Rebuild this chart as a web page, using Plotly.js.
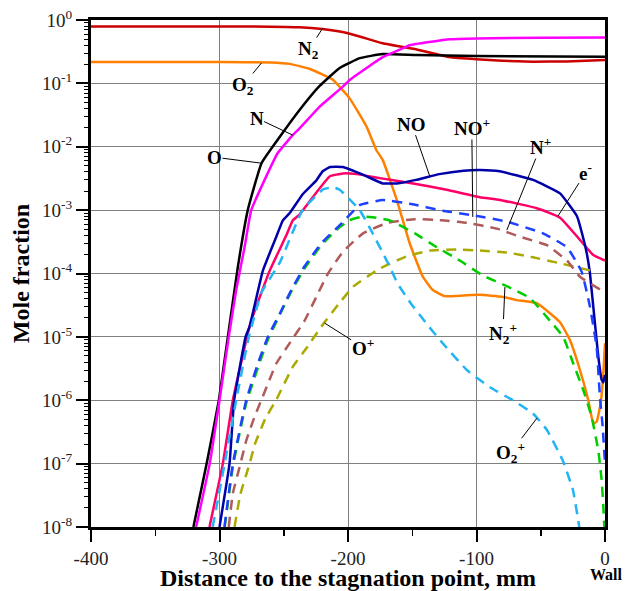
<!DOCTYPE html>
<html><head><meta charset="utf-8">
<script src="https://cdn.plot.ly/plotly-3.0.1.min.js"></script>
<style>html,body{margin:0;padding:0;background:#fff}#chart{width:635px;height:591px}</style>
</head><body><div id="chart"></div>
<script>
// ---- data (x: mm from stagnation point, y: mole fraction) ----
const n2X = [-400,-300,-260,-238,-220,-200,-173,-146,-121,-100,-80,-56,-30,0];
const n2Y = [0.79,0.79,0.785,0.77,0.72,0.62,0.43,0.34,0.26,0.24,0.228,0.22,0.222,0.234];

const o2X = [-400,-300,-260,-245.5,-230,-212,-198.7,-185.5,-178,-173,-162,-152,-141.8,-134,-124.7,-110,-97.4,-80,-68.6,-53,-35,-27.3,-19.5,-13,-9.1,-6.5,-3.4,-1.3,0];
const o2Y = [0.217,0.217,0.214,0.203,0.17,0.115,0.058,0.0207,8.9e-3,6.2e-3,1.44e-3,3e-4,8.9e-5,5.5e-5,4.4e-5,4.5e-5,4.6e-5,4.3e-5,3.8e-5,3.4e-5,1.7e-5,8.9e-6,3e-6,1e-6,4.3e-7,4.6e-7,8.9e-7,2.6e-6,7.9e-6];

const oX = [-320.3,-310,-300.5,-293.5,-285.7,-278,-267.3,-253.2,-237.7,-222.1,-206.5,-190.9,-173,-146.5,-100,0];
const oY = [1e-8,1e-7,1e-6,1e-5,1.28e-4,1e-3,5.5e-3,0.0142,0.038,0.091,0.175,0.25,0.29,0.28,0.27,0.264];

const nX = [-318.2,-307.6,-300,-292.8,-287,-280.5,-275.3,-264.9,-254.8,-243,-237.7,-222,-204,-198.7,-173,-159.7,-152,-120.8,-99.7,-50,0];
const nY = [1e-8,1e-7,1e-6,1e-5,5.5e-5,2.6e-4,1e-3,3e-3,7.9e-3,0.0153,0.0195,0.043,0.089,0.113,0.26,0.34,0.4,0.495,0.51,0.525,0.53];

const noX = [-300,-292.2,-288.6,-279.7,-276.6,-266.3,-255.8,-250.7,-245.5,-235.1,-224.6,-219.7,-214,-204,-188,-173,-162,-147,-129,-110,-97,-82,-56,-35,-21.8,-16.9,-14,-11.7,-7.8,-5.2,-2.6,-1.3,0];
const noY = [1e-8,1e-7,1e-6,1e-5,1.45e-5,1.1e-4,3.8e-4,6.9e-4,8.9e-4,1.8e-3,2.95e-3,4.1e-3,4.8e-3,4.8e-3,3.6e-3,2.64e-3,2.64e-3,3e-3,3.7e-3,4.2e-3,4.3e-3,4.1e-3,3.0e-3,1.84e-3,8e-4,3.6e-4,2e-4,1e-4,1.6e-5,4.9e-6,2.1e-6,1.9e-6,2.5e-6];

const eX = [-307.8,-297.4,-289.6,-278.6,-275.3,-261,-248,-242.9,-237.7,-224.6,-214.3,-204,-193,-175.3,-149.3,-123.3,-97.4,-81.8,-53,-35,-19.5,-9.1,0];
const eY = [1e-8,1e-7,1e-6,1e-5,1.8e-5,1.1e-4,4e-4,6.9e-4,8.5e-4,1.9e-3,3.4e-3,3.8e-3,3.7e-3,3.2e-3,2.64e-3,2.1e-3,1.6e-3,1.45e-3,1.07e-3,7.6e-4,3.4e-4,1.95e-4,1.6e-4];

const o2pX = [-305.3,-296,-287,-277.2,-267.3,-253,-235.4,-219.7,-212,-206.5,-190.9,-180.8,-169.9,-161.3,-151.2,-138.7,-126.2,-107.5,-89.6,-71.7,-56.1,-45.2,-32.7,-24.9,-20];
const o2pY = [1e-8,1e-7,1e-6,1e-5,5e-5,1.5e-4,1e-3,2.1e-3,2.3e-3,2.1e-3,1e-3,4.3e-4,1.6e-4,6.9e-5,3.4e-5,1.6e-5,7.9e-6,3e-6,1.6e-6,1e-6,6.2e-7,3.4e-7,1.1e-7,3.8e-8,1e-8];

const nopX = [-296.1,-289.6,-279.2,-270.1,-262.4,-253.2,-244.1,-233.8,-220.8,-205,-190.9,-173,-152,-126.2,-102.9,-76.4,-48.3,-29.6,-18.2,-11.7,-6.5,-3.9,-1.8,0];
const nopY = [1e-8,1e-7,1e-6,3.8e-6,1e-5,2.3e-5,5.5e-5,1.3e-4,3e-4,6.2e-4,1.2e-3,1.44e-3,1.26e-3,9.8e-4,8.3e-4,6.6e-4,4.3e-4,2.6e-4,1.07e-4,3e-5,6.9e-6,1.1e-6,3.8e-7,1e-7];

const npX = [-292.8,-289.6,-283.7,-279.2,-272.7,-267.5,-255.8,-245.5,-233.8,-224.6,-215.6,-204,-188.3,-169.1,-148,-127,-107.5,-84.2,-66.2,-45.2,-29.6,-19.5,-1.3,0];
const npY = [1e-8,3.4e-8,1e-7,2.3e-7,5.5e-7,1e-6,3.8e-6,7.9e-6,1.8e-5,4.3e-5,1e-4,2.2e-4,4.3e-4,6.3e-4,7.2e-4,6.9e-4,6.3e-4,5.1e-4,3.8e-4,2.8e-4,1.6e-4,8.9e-5,5.2e-5,5e-5];

const n2pX = [-296,-289.6,-279.2,-262.4,-244.1,-233.8,-220.8,-208.8,-199,-188.6,-178,-167.5,-148,-130.9,-113,-95.1,-75.6,-58.4,-42.9,-32.5,-24.7,-16.9,-10.4,-5.2,-2.6,-1.3,-0.5];
const n2pY = [1e-8,9e-8,9e-7,9e-6,5.2e-5,1.2e-4,2.8e-4,4.9e-4,6.9e-4,7.9e-4,7.6e-4,6.9e-4,4.3e-4,2.6e-4,1.6e-4,9.3e-5,6.2e-5,4.1e-5,1.8e-5,1e-5,3.8e-6,1.45e-6,5.5e-7,1.6e-7,5.5e-8,2.1e-8,1e-8];

const opX = [-288.3,-283.9,-276.6,-272.2,-264.4,-256,-242.9,-232.4,-220.8,-207.8,-196,-175.3,-154.5,-136.4,-115.3,-97.4,-76.4,-56.1,-35.1,-11.7,-9.1];
const opY = [1e-8,3.2e-8,1e-7,2.1e-7,5.1e-7,1e-6,3.4e-6,6.6e-6,1.45e-5,3.2e-5,6.2e-5,1.2e-4,1.86e-4,2.3e-4,2.4e-4,2.3e-4,2.15e-4,1.8e-4,1.45e-4,1.12e-4,1.1e-4];

const yExponents = [-8,-7,-6,-5,-4,-3,-2,-1,0];
const xTickVals = [-400,-300,-200,-100,0];
const xTickText = ['-400','-300','-200','-100','0'];

// ---- traces ----
const serif = 'Liberation Serif, Times New Roman, serif';
function line(x, y, color, dash) {
  return {x: x, y: y, type: 'scatter', mode: 'lines', hoverinfo: 'skip',
    line: {color: color, width: 2.5, dash: dash || 'solid', shape: 'spline', smoothing: 0.35}};
}
const traces = [
  line(n2X, n2Y, '#CC0000'),
  line(o2X, o2Y, '#FF8000'),
  line(oX, oY, '#000000'),
  line(nX, nY, '#FF00FF'),
  line(eX, eY, '#FF0066'),
  line(noX, noY, '#0000AA'),
  line(opX, opY, '#AAAA00', '10px,7px'),
  line(npX, npY, '#B05A5A', '10px,7px'),
  line(n2pX, n2pY, '#00CC00', '10px,7px'),
  line(nopX, nopY, '#2040FF', '10px,7px'),
  line(o2pX, o2pY, '#22B4F5', '10px,7px')
];

// ---- labels with leader lines ----
const labels = [
  {t: 'N<sub>2</sub>', x: -219.7, y: 0.745, ax: -14, ay: 22},
  {t: 'O<sub>2</sub>', x: -267.3, y: 0.21, ax: -19, ay: 23},
  {t: 'N', x: -243.1, y: 0.0153, ax: -36, ay: -17},
  {t: 'O', x: -267.3, y: 5.5e-3, ax: -47, ay: -6},
  {t: 'NO', x: -136.4, y: 3.44e-3, ax: -18, ay: -52},
  {t: 'NO<sup>+</sup>', x: -102.9, y: 7.8e-4, ax: -1, ay: -90},
  {t: 'N<sup>+</sup>', x: -76.4, y: 4.85e-4, ax: 34, ay: -84},
  {t: 'e<sup>-</sup>', x: -36.6, y: 8.05e-4, ax: 28, ay: -44},
  {t: 'O<sup>+</sup>', x: -218.2, y: 1.65e-5, ax: 38, ay: 24},
  {t: 'N<sub>2</sub><sup>+</sup>', x: -77.9, y: 6.1e-5, ax: -2, ay: 46},
  {t: 'O<sub>2</sub><sup>+</sup>', x: -53, y: 5.2e-7, ax: -26, ay: 34}
];
const annotations = labels.map(l => ({
  text: '<b>' + l.t + '</b>', x: l.x, y: Math.log10(l.y), xref: 'x', yref: 'y',
  ax: l.ax, ay: l.ay, showarrow: true, arrowhead: 0, arrowwidth: 1, arrowcolor: '#000',
  font: {family: serif, size: 19, color: '#000'}, borderpad: 0
}));
annotations.push({text: '<b>Wall</b>', xref: 'paper', yref: 'paper', x: 1.003, y: -0.094,
  xanchor: 'center', yanchor: 'middle',
  showarrow: false, font: {family: serif, size: 16, color: '#000'}});

const layout = {
  width: 635, height: 591,
  margin: {l: 91, r: 30, t: 20, b: 64},
  paper_bgcolor: '#fff', plot_bgcolor: '#fff',
  showlegend: false,
  font: {family: serif, color: '#000'},
  xaxis: {
    range: [-400, 0], tickvals: xTickVals, ticktext: xTickText,
    ticks: 'outside', ticklen: 12, tickwidth: 2, tickcolor: '#000',
    showline: true, linewidth: 3, linecolor: '#000', mirror: true,
    showgrid: true, gridcolor: '#808080', gridwidth: 1, zeroline: false,
    tickfont: {family: serif, size: 19, color: '#222'},
    minor: {dtick: 50, ticks: 'outside', ticklen: 6, tickwidth: 1.5, tickcolor: '#000', showgrid: false},
    title: {text: '<b>Distance to the stagnation point, mm</b>', font: {family: serif, size: 24, color: '#000'}, standoff: 2}
  },
  yaxis: {
    type: 'log', range: [-8, 0],
    tickvals: yExponents.map(e => Math.pow(10, e)),
    ticktext: yExponents.map(e => '10<sup>' + e + '</sup>'),
    ticks: 'outside', ticklen: 12, tickwidth: 2, tickcolor: '#000',
    showline: true, linewidth: 3, linecolor: '#000', mirror: true,
    showgrid: true, gridcolor: '#808080', gridwidth: 1, zeroline: false,
    tickfont: {family: serif, size: 19, color: '#222'},
    minor: {dtick: 'D1', ticks: 'outside', ticklen: 4, tickwidth: 1, tickcolor: '#000', showgrid: false},
    title: {text: '<b>Mole fraction</b>', font: {family: serif, size: 24, color: '#000'}, standoff: 6}
  },
  annotations: annotations
};

Plotly.newPlot('chart', traces, layout, {displayModeBar: false, staticPlot: true});
</script>
</body></html>
